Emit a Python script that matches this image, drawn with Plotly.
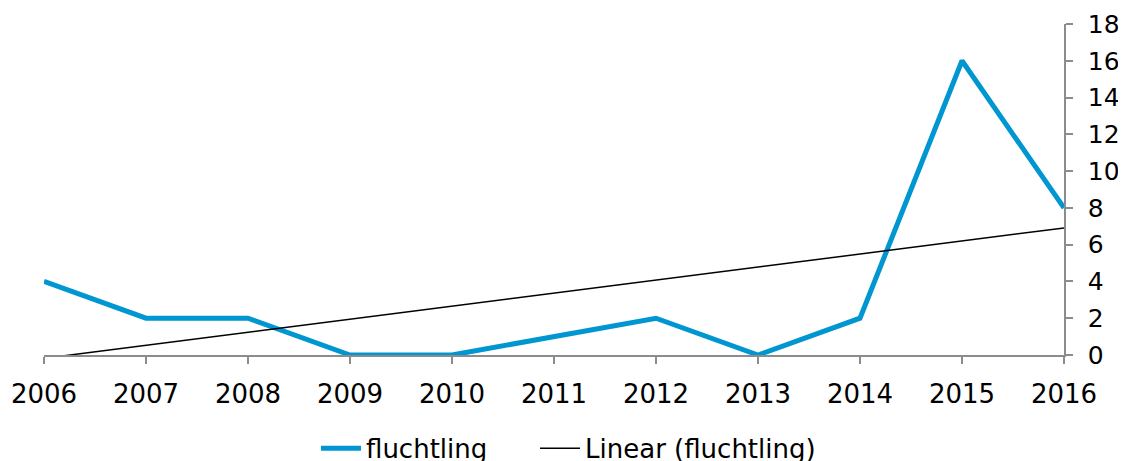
import numpy as np
import plotly.graph_objects as go

years = [2006, 2007, 2008, 2009, 2010, 2011, 2012, 2013, 2014, 2015, 2016]
fluchtling = [4, 2, 2, 0, 0, 1, 2, 0, 2, 16, 8]
y_ticks = [0, 2, 4, 6, 8, 10, 12, 14, 16, 18]

coef = np.polyfit(years, fluchtling, 1)
trend = np.polyval(coef, years)

FONT = "DejaVu Sans"
fig = go.Figure()
fig.add_trace(go.Scatter(x=years, y=fluchtling, mode="lines", name="fluchtling",
                         line=dict(color="#0096D2", width=5), legend="legend"))
fig.add_trace(go.Scatter(x=years, y=trend, mode="lines", name="Linear (fluchtling)",
                         line=dict(color="#000000", width=1.5), legend="legend2"))

leg_common = dict(orientation="h", xref="container", yref="container",
                  xanchor="left", y=0.028, yanchor="middle",
                  font=dict(family=FONT, size=26), itemwidth=40,
                  bgcolor="rgba(0,0,0,0)")

fig.update_layout(
    width=1118, height=453,
    margin=dict(l=36, r=62, t=16, b=106),
    plot_bgcolor="white", paper_bgcolor="white",
    font=dict(family=FONT, size=26, color="#000000"),
    showlegend=True,
    legend=dict(x=0.2755, **leg_common),
    legend2=dict(x=0.4714, **leg_common),
    xaxis=dict(range=[2006, 2016], tickvals=years, ticktext=[str(y) for y in years],
               showgrid=False, zeroline=False, showline=True, linecolor="#8C8C8C",
               linewidth=1.5, ticks="outside", ticklen=7, tickcolor="#8C8C8C",
               tickwidth=1.5, tickfont=dict(size=26), automargin=False,
               ticklabelstandoff=8),
    yaxis=dict(range=[0, 18], tickvals=y_ticks, side="right", showgrid=False,
               zeroline=False, showline=True, linecolor="#8C8C8C", linewidth=1.5,
               ticks="outside", ticklen=7, tickcolor="#8C8C8C", tickwidth=1.5,
               tickfont=dict(size=25), automargin=False, ticklabelstandoff=10),
)

fig.write_html("out.html")
